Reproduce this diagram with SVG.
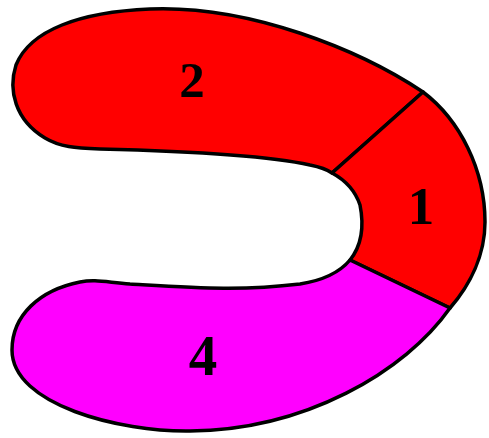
<svg xmlns="http://www.w3.org/2000/svg" width="489" height="438" viewBox="0 0 489 438">
<style>
.r{stroke:#000;stroke-width:3.5;stroke-linejoin:round}
.t{font-family:"Liberation Serif","Times New Roman",serif;font-weight:bold;fill:#000;text-anchor:middle}
</style>
<rect width="489" height="438" fill="#fff"/>
<g id="region2">
<path class="r" fill="#ff0000" d="M423,92 C360,50 250,5 150,9 C80,12 30,30 16,65 C8,90 15,120 45,138 C60,147 75,148 100,149 C180,151 270,156 310,165 Q325,168 332,173 Z"/>
<text class="t" x="192" y="97" font-size="51">2</text>
</g>
<g id="region1">
<path class="r" fill="#ff0000" d="M423,92 C460,120 485,170 485,222 C485,255 470,285 450,308 L350,260 C362,245 364,225 360,205 C355,190 345,180 332,173 Z"/>
<text class="t" x="421" y="224" font-size="53">1</text>
</g>
<g id="region4">
<path class="r" fill="#ff00ff" d="M350,260 L450,308 C405,372 305,430 190,431 C120,432 12,405 12,350 C12,315 40,290 80,282 C95,279 105,282 130,284 C200,288 240,291 300,284 C325,280 340,272 350,260 Z"/>
<text class="t" x="203" y="375" font-size="57">4</text>
</g>
</svg>
